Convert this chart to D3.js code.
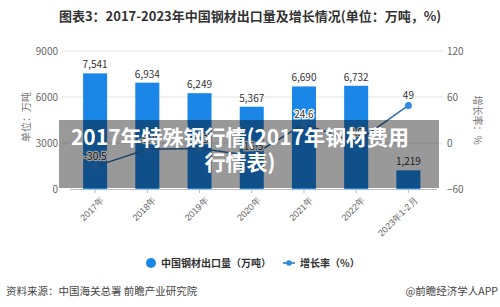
<!DOCTYPE html>
<html><head><meta charset="utf-8">
<script src="https://cdn.jsdelivr.net/npm/d3@7"></script>
<style>
body{margin:0;background:#fff;}
svg{display:block;font-family:"Noto Sans CJK SC","Noto Sans",sans-serif;}
</style></head>
<body><svg id="c" width="500" height="307"></svg>
<script>
const categories = ["2017年","2018年","2019年","2020年","2021年","2022年","2023年1-2月"];
const exportVolume = [7541, 6934, 6249, 5367, 6690, 6732, 1219];
const growthRate = [-30.5, -8.1, -7.3, -16.5, 24.6, 0.9, 49];
const leftTicks = [0, 3000, 6000, 9000];
const rightTicks = [-60, 0, 60, 120];

const svg = d3.select("#c");
const x = d3.scaleBand().domain(categories).range([69, 434.5]).paddingInner(0.54).paddingOuter(0.27);
const yL = d3.scaleLinear().domain([0, 9000]).range([189, 51]);
const yR = d3.scaleLinear().domain([-60, 120]).range([189, 51]);
const cx = d => x(d) + x.bandwidth() / 2;

// title
svg.append("text").attr("x", 250).attr("y", 21).attr("text-anchor", "middle")
  .attr("font-size", 13).attr("font-weight", "bold").attr("fill", "#333")
  .text("图表3：2017-2023年中国钢材出口量及增长情况(单位：万吨，%)");

// gridlines
svg.append("g").selectAll("line").data(leftTicks.slice(1)).join("line")
  .attr("x1", 62).attr("x2", 443).attr("y1", d => yL(d)).attr("y2", d => yL(d))
  .attr("stroke", "#e3e3e3").attr("stroke-width", 1);

// left axis
const gL = svg.append("g").attr("transform", "translate(62,0)")
  .call(d3.axisLeft(yL).tickValues(leftTicks).tickSize(0).tickPadding(4).tickFormat(d3.format("d")));
gL.select(".domain").remove();
gL.selectAll("text").attr("font-size", 10).attr("fill", "#666").attr("font-family", "'Noto Sans CJK SC',sans-serif");

// right axis
const gR = svg.append("g").attr("transform", "translate(443,0)")
  .call(d3.axisRight(yR).tickValues(rightTicks).tickSize(0).tickPadding(4).tickFormat(d3.format("d")));
gR.select(".domain").remove();
gR.selectAll("text").attr("font-size", 10).attr("fill", "#666").attr("font-family", "'Noto Sans CJK SC',sans-serif");

// axis titles
svg.append("text").attr("transform", "translate(30,117) rotate(-90)").attr("text-anchor", "middle")
  .attr("font-size", 10).attr("fill", "#777").text("单位：万吨");
svg.append("text").attr("transform", "translate(474,120) rotate(90)").attr("text-anchor", "middle")
  .attr("font-size", 10).attr("fill", "#777").text("增长率：%");

// bars
svg.append("g").selectAll("rect").data(exportVolume).join("rect")
  .attr("x", (d, i) => x(categories[i])).attr("width", x.bandwidth())
  .attr("y", d => yL(d)).attr("height", d => yL(0) - yL(d)).attr("fill", "#1a86e8");

// bar labels
svg.append("g").selectAll("text").data(exportVolume).join("text")
  .attr("x", (d, i) => cx(categories[i])).attr("y", d => yL(d) - 5)
  .attr("text-anchor", "middle").attr("font-size", 10).attr("fill", "#333")
  .text(d => d3.format(",")(d));

// x axis
const gX = svg.append("g").attr("transform", "translate(0,189)")
  .call(d3.axisBottom(x).tickSize(4).tickSizeOuter(0));
gX.select(".domain").attr("stroke", "#bbb").attr("d", "M70,0.5H437");
gX.selectAll(".tick line").attr("stroke", "#bbb");
gX.selectAll("text").attr("font-size", 9).attr("fill", "#666")
  .attr("text-anchor", "end").attr("transform", "translate(2,2) rotate(-45)")
  .attr("dy", "0.6em").attr("dx", "-0.2em");

// line
const line = d3.line().x((d, i) => cx(categories[i])).y(d => yR(d));
svg.append("path").datum(growthRate).attr("d", line).attr("fill", "none")
  .attr("stroke", "#2f6fad").attr("stroke-width", 1.5);
svg.append("g").selectAll("circle").data(growthRate).join("circle")
  .attr("cx", (d, i) => cx(categories[i])).attr("cy", d => yR(d)).attr("r", 3.5)
  .attr("fill", "#2d8ae0");
svg.append("g").selectAll("text").data(growthRate).join("text")
  .attr("x", (d, i) => cx(categories[i])).attr("y", d => yR(d) - 6)
  .attr("text-anchor", "middle").attr("font-size", 10).attr("fill", "#333")
  .attr("stroke", "#fff").attr("stroke-width", 2.5).attr("paint-order", "stroke")
  .text(d => d);

// legend
const lg = svg.append("g");
lg.append("circle").attr("cx", 151).attr("cy", 263).attr("r", 5).attr("fill", "#1a86e8");
lg.append("text").attr("x", 161).attr("y", 267).attr("font-size", 10).attr("fill", "#333").attr("font-weight", "bold")
  .text("中国钢材出口量（万吨）");
lg.append("line").attr("x1", 283).attr("x2", 295).attr("y1", 263).attr("y2", 263).attr("stroke", "#2f6fad").attr("stroke-width", 1.5);
lg.append("circle").attr("cx", 289).attr("cy", 263).attr("r", 2.8).attr("fill", "#2d8ae0");
lg.append("text").attr("x", 300).attr("y", 267).attr("font-size", 10).attr("fill", "#333").attr("font-weight", "bold")
  .text("增长率（%）");

// footer
svg.append("text").attr("x", 6).attr("y", 295).attr("font-size", 10.5).attr("fill", "#444")
  .text("资料来源：中国海关总署 前瞻产业研究院");
svg.append("text").attr("x", 498).attr("y", 295).attr("text-anchor", "end").attr("font-size", 10.5).attr("fill", "#444")
  .text("@前瞻经济学人APP");

// overlay
svg.append("rect").attr("x", 59).attr("y", 120).attr("width", 380).attr("height", 68)
  .attr("fill", "rgba(0,0,0,0.4)");
const ov = svg.append("text").attr("text-anchor", "middle").attr("font-size", 21).attr("font-weight", "bold")
  .attr("fill", "#fff");
ov.append("tspan").attr("x", 240).attr("y", 145).text("2017年特殊钢行情(2017年钢材费用");
ov.append("tspan").attr("x", 240).attr("y", 170).text("行情表)");
</script></body></html>
